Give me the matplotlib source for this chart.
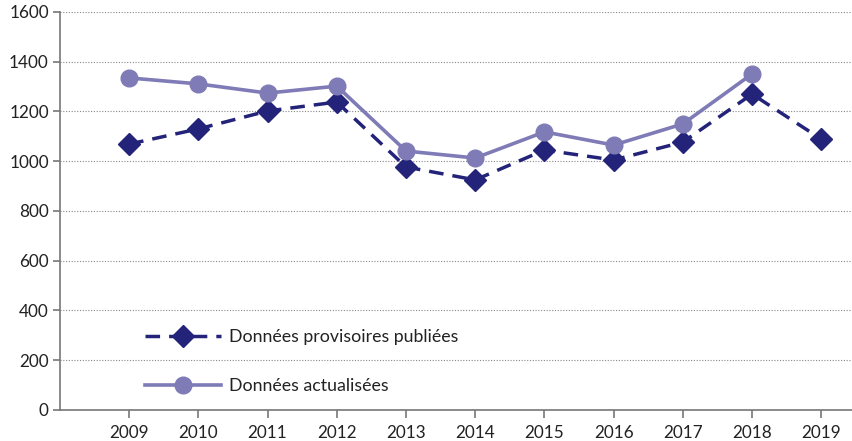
import matplotlib.pyplot as plt
import numpy as np

# données
annees = [2009, 2010, 2011, 2012, 2013, 2014, 2015, 2016, 2017, 2018, 2019]
provisoires = [1069, 1130, 1202, 1238, 977, 925, 1045, 1005, 1077, 1270, 1089]
annees_act = [2009, 2010, 2011, 2012, 2013, 2014, 2015, 2016, 2017, 2018]
actualisees = [1335, 1311, 1274, 1302, 1041, 1013, 1118, 1065, 1150, 1351]
yticks = [0, 200, 400, 600, 800, 1000, 1200, 1400, 1600]

navy = '#232379'
mauve = '#7f7bb6'
grey = '#777777'

plt.rcParams['font.family'] = ['Lato', 'DejaVu Sans']

fig = plt.figure(figsize=(8.53, 4.41), dpi=100)
ax = fig.add_axes([0.0703, 0.0703, 0.929, 0.9025])

ax.plot(annees, provisoires, color=navy, lw=2.5, dashes=(4.2, 2.6),
        marker='D', ms=11, mec=navy, mfc=navy, label='Données provisoires publiées', zorder=3)
ax.plot(annees_act, actualisees, color=mauve, lw=2.6,
        marker='o', ms=12, mec=mauve, mfc=mauve, label='Données actualisées', zorder=4)

ax.set_xlim(2008.0, 2019.45)
ax.set_ylim(0, 1600)
ax.set_xticks(annees)
ax.set_yticks(yticks)
ax.grid(axis='y', linestyle=(0, (1, 1.5)), color='#888888', lw=0.8)
ax.set_axisbelow(True)

for s in ['top', 'right']:
    ax.spines[s].set_visible(False)
for s in ['left', 'bottom']:
    ax.spines[s].set_color(grey)
    ax.spines[s].set_linewidth(1.2)

ax.tick_params(axis='x', length=6, width=1.2, color=grey, labelsize=12.3, pad=5, labelcolor='#222222')
ax.tick_params(axis='y', length=5, width=1.2, color=grey, labelsize=12.3, pad=3, labelcolor='#222222')

leg = ax.legend(loc='lower left', bbox_to_anchor=(0.087, 0.0), frameon=False,
                fontsize=12.8, handlelength=4.3, handletextpad=0.45, labelspacing=1.85,
                labelcolor='#222222')

fig.savefig('out.png', dpi=100)
